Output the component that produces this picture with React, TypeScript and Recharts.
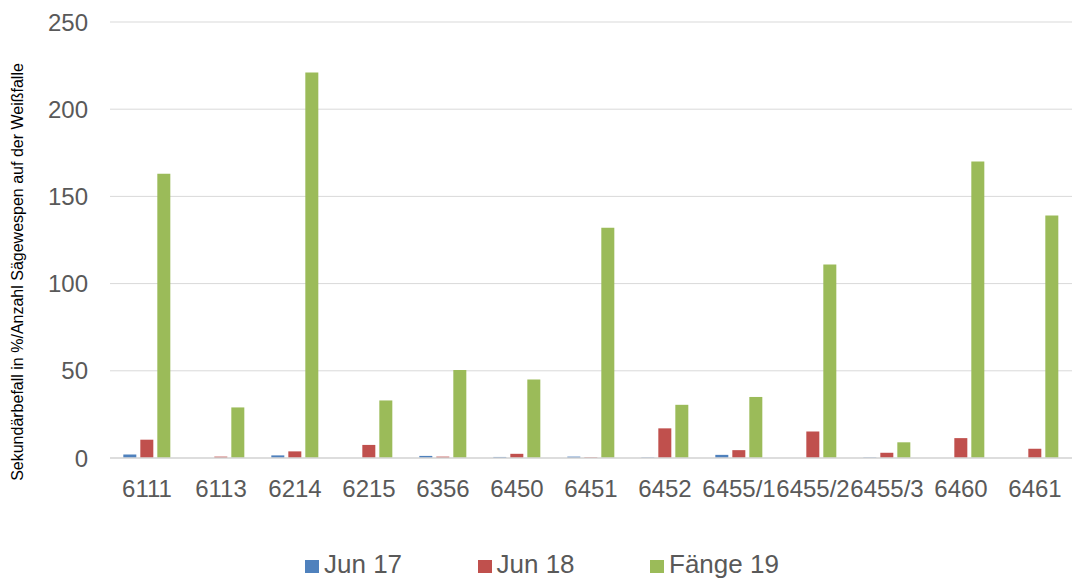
import React from 'react';
import { BarChart, Bar, XAxis, YAxis, CartesianGrid } from 'recharts';

const categories = ['6111', '6113', '6214', '6215', '6356', '6450', '6451', '6452', '6455/1', '6455/2', '6455/3', '6460', '6461'];
const jun17 = [2, 0, 1.5, 0, 1.2, 0.6, 0.8, 0.3, 1.8, 0, 0.3, 0, 0];
const jun18 = [10.5, 0.8, 3.8, 7.5, 0.8, 2.4, 0.4, 17, 4.5, 15.2, 3, 11.4, 5.3];
const faenge19 = [163, 29, 221, 33, 50.5, 45, 132, 30.5, 35, 111, 9, 170, 139];
const yTicks = [0, 50, 100, 150, 200, 250];

const series = [
  { key: 'jun17', name: 'Jun 17', color: '#4f81bd' },
  { key: 'jun18', name: 'Jun 18', color: '#c0504d' },
  { key: 'faenge19', name: 'Fänge 19', color: '#9bbb59' },
];

const data = categories.map((name, i) => ({
  name,
  jun17: jun17[i],
  jun18: jun18[i],
  faenge19: faenge19[i],
}));

const font = '"Liberation Sans", Arial, sans-serif';
const textColor = '#595959';

export default function App() {
  return (
    <div style={{ position: 'absolute', left: 0, top: 0, width: 1074, height: 579, background: '#fff', fontFamily: font, overflow: 'hidden' }}>
      <BarChart
        width={1074}
        height={579}
        data={data}
        margin={{ top: 22, right: 2, left: 10, bottom: 71 }}
        barCategoryGap="18%"
        barGap={4}
      >
        <CartesianGrid vertical={false} stroke="#d9d9d9" />
        <XAxis
          dataKey="name"
          axisLine={{ stroke: '#d9d9d9', strokeWidth: 1.5 }}
          tickLine={false}
          tickSize={0}
          tickMargin={22}
          height={50}
          interval={0}
          tick={{ fill: textColor, fontSize: 24, fontFamily: font }}
        />
        <YAxis
          domain={[0, 250]}
          ticks={yTicks}
          width={100}
          axisLine={false}
          tickLine={false}
          tickSize={0}
          tickMargin={22}
          tick={{ fill: textColor, fontSize: 24, fontFamily: font }}
        />
        {series.map((s) => (
          <Bar key={s.key} dataKey={s.key} name={s.name} fill={s.color} isAnimationActive={false} />
        ))}
      </BarChart>
      <div
        style={{
          position: 'absolute',
          left: 18,
          top: 272,
          transform: 'translate(-50%, -50%) rotate(-90deg)',
          whiteSpace: 'nowrap',
          fontSize: 16,
          color: '#000',
        }}
      >
        Sekundärbefall in %/Anzahl Sägewespen auf der Weißfalle
      </div>
      <div style={{ position: 'absolute', top: 549, left: 0, width: 1074, height: 30 }}>
        {series.map((s, i) => (
          <div
            key={s.key}
            style={{ position: 'absolute', left: 305 + i * 172.5, top: 0, display: 'flex', alignItems: 'center', height: 30 }}
          >
            <span style={{ display: 'inline-block', width: 14, height: 13, background: s.color, marginRight: 5, marginTop: 4 }} />
            <span style={{ fontSize: 26, color: textColor, lineHeight: '30px' }}>{s.name}</span>
          </div>
        ))}
      </div>
    </div>
  );
}
